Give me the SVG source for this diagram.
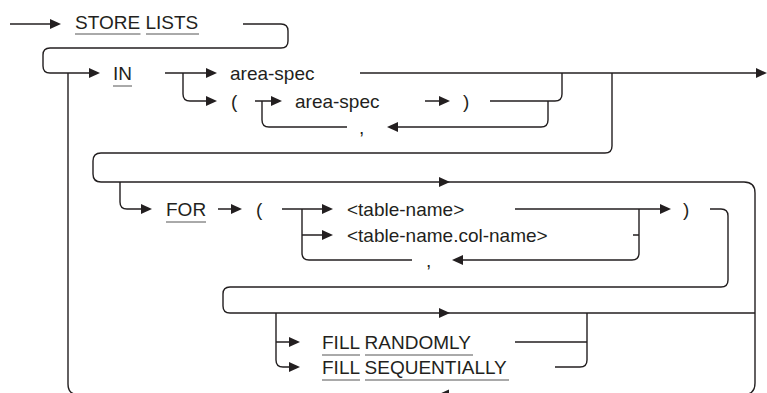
<svg xmlns="http://www.w3.org/2000/svg" xmlns:xlink="http://www.w3.org/1999/xlink" width="767" height="393" viewBox="0 0 767 393">
<style>
text{font-family:"Liberation Sans",Arial,sans-serif;font-size:19px;fill:#231f20}
.c{fill:none;stroke:#231f20;stroke-width:1.4}
.u{stroke:#555;stroke-width:1}
.ah{fill:#231f20}
</style>
<defs>
<path id="ar" class="ah" d="M0,0 L-11,-5 L-11,5 Z"/>
<path id="al" class="ah" d="M0,0 L11,-5 L11,5 Z"/>
</defs>
<rect width="767" height="393" fill="#fff"/>
<g id="connectors">
<path class="c" d="M10,24 H51"/>
<path class="c" d="M243,24 H281 Q288,24 288,31 V41 Q288,48 281,48 H50 Q43,48 43,55 V66 Q43,73 50,73 H90"/>
<path class="c" d="M68,73 V384 Q68,394.5 78,394.5 H744 Q755,394.5 755,383 V193 Q755,182 744,182 H101 Q93,182 93,174 V161 Q93,153 101,153 H605 Q612,153 612,146 V73"/>
<path class="c" d="M165,73 H207 M183,73 V94 Q183,101 190,101 H207"/>
<path class="c" d="M360,73 H757"/>
<path class="c" d="M255,101 H272 M262,101 V120 Q262,127 269,127 H347 M398,127 H541 Q548,127 548,120 V101"/>
<path class="c" d="M425,101 H440 M490,101 H555 Q562,101 562,94 V73"/>
<path class="c" d="M120,182 V202 Q120,209 127,209 H142 M218,209 H232"/>
<path class="c" d="M282,209 H323 M302,209 V253 Q302,260 309,260 H412 M302,235 H323 M463,260 H632 Q639,260 639,253 V209 M633,235 H639 M515,209 H661"/>
<path class="c" d="M710,209 H721 Q728,209 728,216 V280 Q728,287 721,287 H230 Q223,287 223,294 V306 Q223,313 230,313 H755"/>
<path class="c" d="M276,313 V360 Q276,367 283,367 H290 M276,342 H290"/>
<path class="c" d="M515,342 H587 M587,313 V360 Q587,367 580,367 H555"/>
<use xlink:href="#ar" x="61" y="24"/>
<use xlink:href="#ar" x="100" y="73"/>
<use xlink:href="#ar" x="217" y="73"/>
<use xlink:href="#ar" x="217" y="101"/>
<use xlink:href="#ar" x="282" y="101"/>
<use xlink:href="#ar" x="450" y="101"/>
<use xlink:href="#al" x="387" y="127"/>
<use xlink:href="#ar" x="767" y="73"/>
<use xlink:href="#ar" x="450" y="182"/>
<use xlink:href="#ar" x="152" y="209"/>
<use xlink:href="#ar" x="242" y="209"/>
<use xlink:href="#ar" x="333" y="209"/>
<use xlink:href="#ar" x="333" y="235"/>
<use xlink:href="#ar" x="671" y="209"/>
<use xlink:href="#al" x="452" y="260"/>
<use xlink:href="#ar" x="450" y="313"/>
<use xlink:href="#ar" x="300" y="342"/>
<use xlink:href="#ar" x="300" y="367"/>
<use xlink:href="#al" x="438" y="394.5"/>
</g>
<g id="store-lists">
<text x="75" y="29">STORE LISTS</text>
<path class="u" d="M75,34 H140.5 M146,34 H199"/>
</g>
<g id="in">
<text x="113" y="80">IN</text>
<path class="u" d="M113,86 H132"/>
</g>
<g id="area-spec-1"><text x="230" y="80">area-spec</text></g>
<g id="lparen-1"><text x="231" y="108">(</text></g>
<g id="area-spec-2"><text x="295" y="108">area-spec</text></g>
<g id="rparen-1"><text x="463" y="108">)</text></g>
<g id="comma-1"><text x="359" y="134">,</text></g>
<g id="for">
<text x="166" y="216">FOR</text>
<path class="u" d="M166,222 H206"/>
</g>
<g id="lparen-2"><text x="256" y="216">(</text></g>
<g id="table-name"><text x="347" y="216">&lt;table-name&gt;</text></g>
<g id="table-name-col-name"><text x="347" y="242">&lt;table-name.col-name&gt;</text></g>
<g id="comma-2"><text x="426" y="267">,</text></g>
<g id="rparen-2"><text x="683" y="216">)</text></g>
<g id="fill-randomly">
<text x="322" y="349">FILL RANDOMLY</text>
<path class="u" d="M322,355 H360 M365,355 H473"/>
</g>
<g id="fill-sequentially">
<text x="322" y="374">FILL SEQUENTIALLY</text>
<path class="u" d="M322,380 H360 M365,380 H509"/>
</g>
</svg>
